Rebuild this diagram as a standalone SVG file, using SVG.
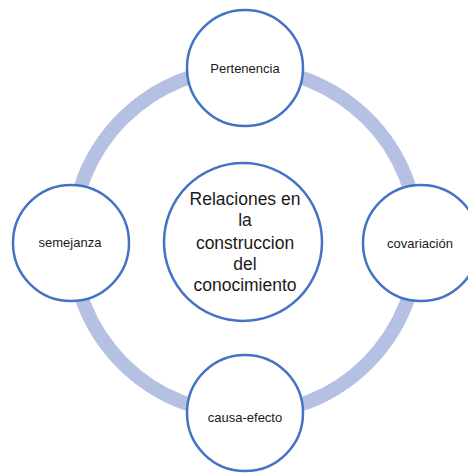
<svg xmlns="http://www.w3.org/2000/svg" width="468" height="473" viewBox="0 0 468 473">
<style>
.node{fill:#ffffff;stroke:#4472C4;stroke-width:2.5}
.lbl{font-family:"Liberation Sans",Arial,sans-serif;font-size:13px;fill:#1a1a1a;text-anchor:middle}
.ctr{font-family:"Liberation Sans",Arial,sans-serif;font-size:17.5px;fill:#1a1a1a;text-anchor:middle}
.ring{fill:none;stroke:#B4C1E3;stroke-width:14}
</style>
<rect width="468" height="473" fill="#ffffff"/>
<g id="connectors">
<circle class="ring" cx="245" cy="241" r="173"/>
</g>
<g id="center">
<circle class="node" cx="243" cy="242" r="79"/>
<text class="ctr" x="245" y="205">Relaciones en</text>
<text class="ctr" x="245" y="226">la</text>
<text class="ctr" x="245" y="249">construccion</text>
<text class="ctr" x="245" y="270">del</text>
<text class="ctr" x="245" y="291">conocimiento</text>
</g>
<g id="pertenencia">
<circle class="node" cx="245" cy="68" r="58"/>
<text class="lbl" x="245" y="73">Pertenencia</text>
</g>
<g id="semejanza">
<circle class="node" cx="71" cy="243" r="58"/>
<text class="lbl" x="70" y="247">semejanza</text>
</g>
<g id="covariacion">
<circle class="node" cx="421" cy="243" r="58"/>
<text class="lbl" x="420" y="248">covariación</text>
</g>
<g id="causa-efecto">
<circle class="node" cx="245" cy="413" r="58"/>
<text class="lbl" x="245" y="422">causa-efecto</text>
</g>
</svg>
